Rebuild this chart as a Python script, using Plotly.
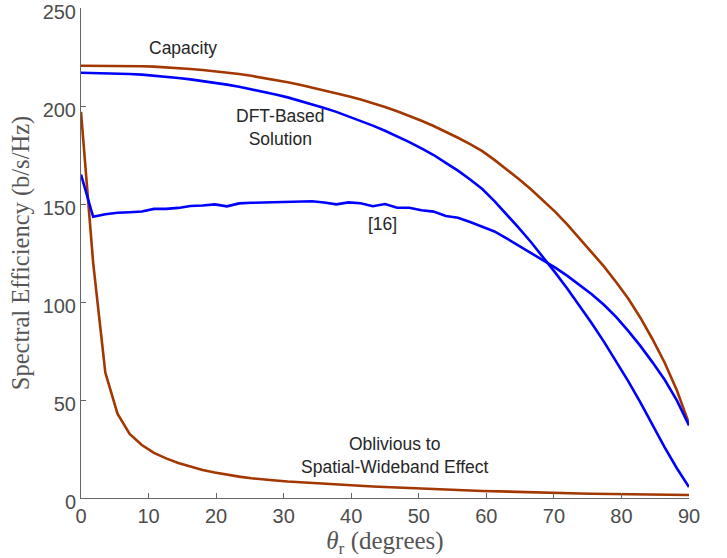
import plotly.graph_objects as go

theta = [round(i * 1.8, 1) for i in range(51)]

capacity = [220.5, 220.5, 220.5, 220.5, 220.4, 220.3, 220.1, 219.8, 219.4, 218.9,
            218.4, 217.8, 217.1, 216.3, 215.4, 214.4, 213.3, 212.1, 210.8, 209.4,
            208.0, 206.5, 205.0, 203.3, 201.5, 199.5, 197.3, 195.0, 192.5, 189.8,
            186.9, 183.8, 180.5, 177.0, 172.5, 167.8, 162.8, 157.5, 152.0, 146.0,
            139.5, 132.5, 125.5, 118.2, 110.2, 101.8, 92.0, 81.0, 69.0, 55.0, 38.0]

dft_based = [217.0, 216.9, 216.8, 216.6, 216.3, 216.0, 215.5, 215.0, 214.3, 213.6,
             212.8, 211.9, 210.9, 209.8, 208.6, 207.3, 205.9, 204.4, 202.7, 200.9,
             199.0, 197.0, 194.8, 192.5, 190.0, 187.4, 184.6, 181.6, 178.4, 175.0,
             171.0, 167.0, 162.5, 157.6, 151.5, 144.8, 137.8, 130.6, 123.0, 115.0,
             106.8, 98.2, 89.2, 79.8, 70.0, 59.6, 48.8, 37.0, 25.8, 15.2, 5.6]

ref16 = [165.0, 143.5, 144.8, 145.5, 145.8, 146.2, 147.5, 147.5, 148.0, 149.0,
         149.2, 149.8, 148.8, 150.3, 150.6, 150.8, 150.8, 151.0, 151.2, 151.4,
         150.8, 149.8, 150.8, 150.4, 148.9, 150.0, 148.1, 148.1, 146.8, 146.1,
         143.9, 143.0, 140.8, 138.3, 136.0, 132.5, 128.8, 125.0, 121.5, 117.5,
         113.3, 108.8, 104.0, 98.6, 92.4, 85.3, 77.6, 69.2, 60.3, 49.8, 37.0]

oblivious = [197.0, 120.0, 64.0, 43.0, 32.7, 27.0, 23.0, 20.2, 17.9, 16.0,
             14.3, 13.0, 11.9, 10.9, 10.1, 9.4, 8.9, 8.4, 8.0, 7.6,
             7.2, 6.9, 6.6, 6.2, 5.9, 5.6, 5.3, 5.0, 4.7, 4.5,
             4.2, 4.0, 3.8, 3.6, 3.4, 3.2, 3.1, 2.9, 2.8, 2.6,
             2.5, 2.3, 2.2, 2.1, 2.0, 1.9, 1.8, 1.7, 1.6, 1.5, 1.5]

x_ticks = [0, 10, 20, 30, 40, 50, 60, 70, 80, 90]
y_ticks = [0, 50, 100, 150, 200, 250]

BROWN = "#A33700"
BLUE = "#0000FF"

fig = go.Figure()
for name, ys, col in [("Oblivious", oblivious, BROWN), ("Capacity", capacity, BROWN),
                      ("DFT-Based", dft_based, BLUE), ("[16]", ref16, BLUE)]:
    fig.add_trace(go.Scatter(x=theta, y=ys, mode="lines", name=name,
                             line=dict(color=col, width=2.6), showlegend=False))

ann_font = dict(family="Liberation Sans, Arial, sans-serif", size=17.5, color="#262626")
labels = [("Capacity", 15.1, 229.6), ("DFT-Based<br>Solution", 29.5, 188.8),
          ("[16]", 44.7, 139.8), ("Oblivious to<br>Spatial-Wideband Effect", 46.5, 21.9)]
for txt, ax, ay in labels:
    fig.add_annotation(x=ax, y=ay, text=txt, showarrow=False, font=ann_font,
                       xref="x", yref="y")

axis_common = dict(showgrid=False, zeroline=False, showline=True, linecolor="#666666",
                   linewidth=1, ticks="inside", ticklen=5, tickcolor="#666666",
                   tickfont=dict(family="Liberation Sans, Arial, sans-serif", size=20,
                                 color="#4d4d4d"),
                   ticklabeloverflow="allow", automargin=False, mirror=False)

serif = "Liberation Serif, Times New Roman, serif"

fig.update_layout(
    width=727, height=558,
    margin=dict(l=81, r=38, t=8, b=60),
    paper_bgcolor="white", plot_bgcolor="white",
    xaxis=dict(range=[0, 90], tickvals=x_ticks, **axis_common,
               title=dict(text="<i>θ</i><sub>r</sub> (degrees)", standoff=3,
                          font=dict(family=serif, size=25, color="#555555"))),
    yaxis=dict(range=[0, 250], tickvals=y_ticks, ticklabelshift=4, **axis_common,
               title=dict(text="Spectral Efficiency (b/s/Hz)", standoff=6,
                          font=dict(family=serif, size=24.5, color="#555555"))),
)

fig.write_html("out.html", config={"displayModeBar": False},
               post_script="document.body.style.margin='0px';")
